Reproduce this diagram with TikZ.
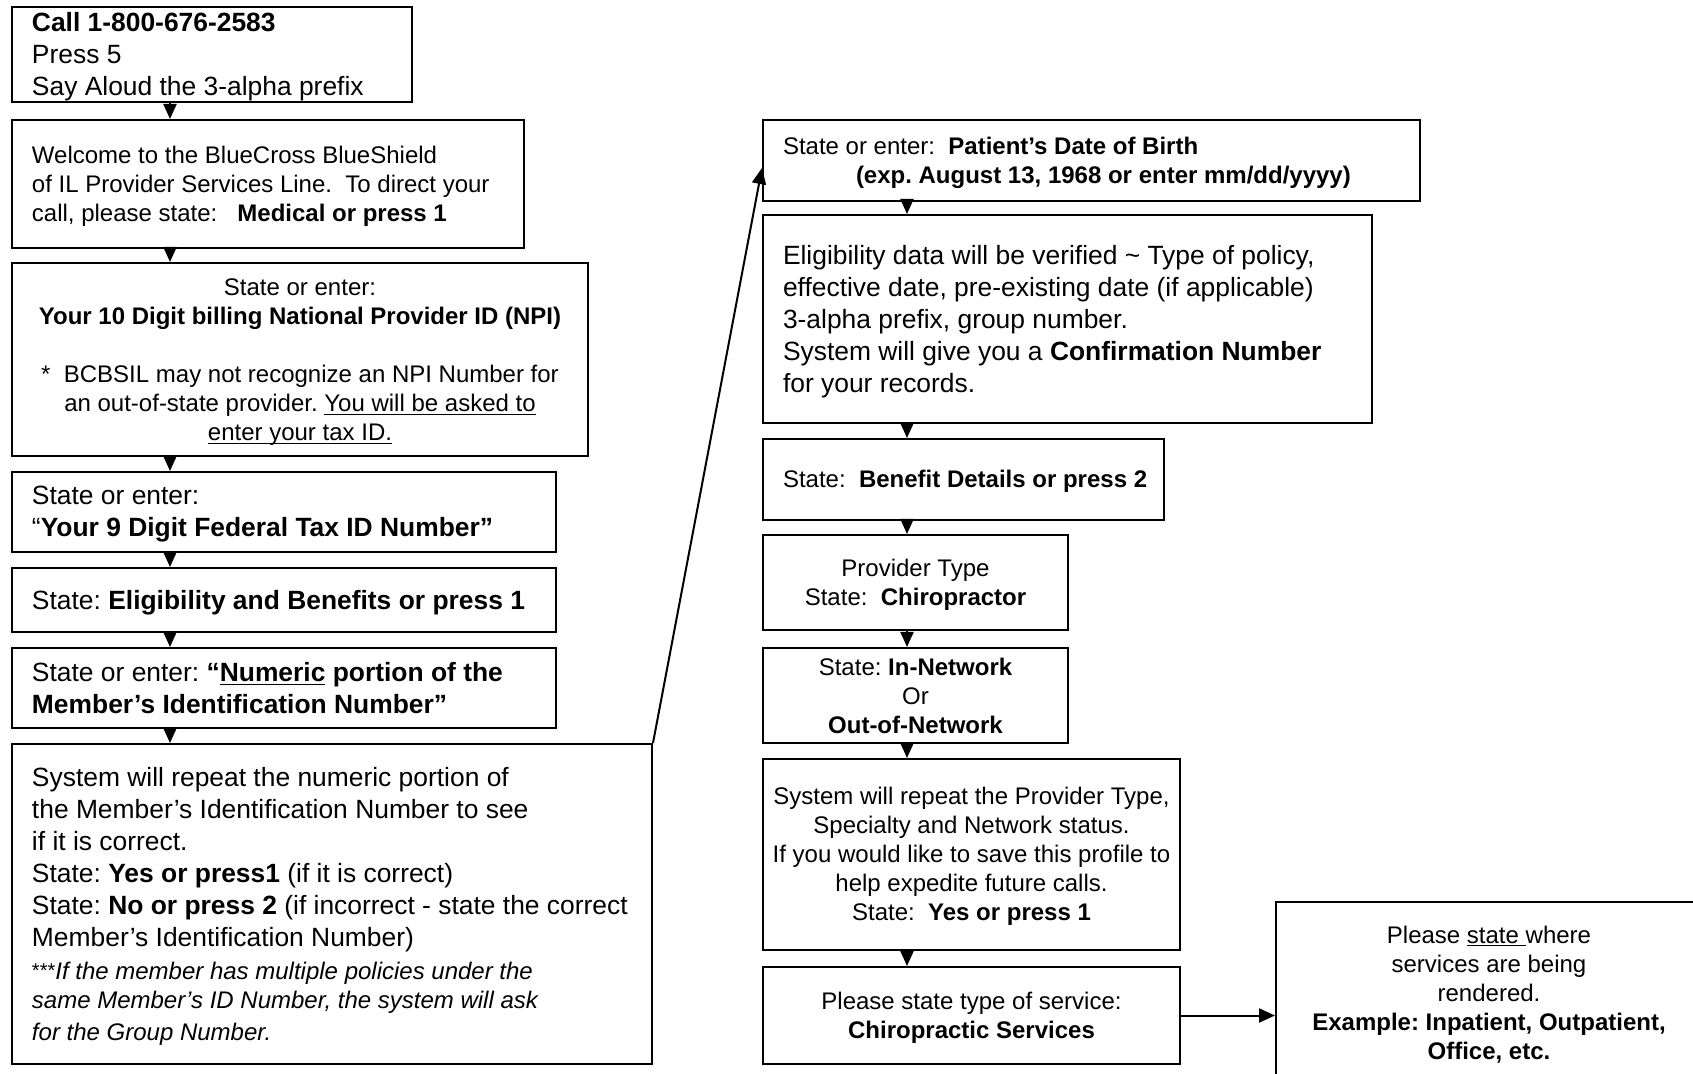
\documentclass[tikz,border=0pt]{standalone}
\usepackage{fontspec}
\setmainfont{Liberation Sans}
\usetikzlibrary{arrows.meta}
\newcommand\ulx[1]{\underline{\smash{#1}}}
\newcommand\natsp{\spaceskip=\fontdimen2\font plus \fontdimen3\font minus \fontdimen4\font\relax}
\newcommand\bigf{\fontsize{13.2pt}{16pt}\selectfont\natsp}
\newcommand\smf{\fontsize{12pt}{14.5pt}\selectfont\natsp}
\newcommand\Lx[1]{\mbox{#1}}
\begin{document}
\frenchspacing
\begin{tikzpicture}[x=0.5pt,y=-0.5pt,
  box/.style={draw, line width=1pt, rectangle, anchor=north west, inner ysep=0pt,
              execute at begin node={\natsp}},
  lbox/.style={box, align=left, inner xsep=10pt},
  cbox/.style={box, align=center, inner xsep=2pt},
  bigtext/.style={font=\bigf, text height=11.8pt},
  smalltext/.style={font=\smf, text height=10.9pt},
  arr/.style={line width=1pt, -{Triangle[width=6.5pt,length=7.5pt]}},
  longarr/.style={line width=1pt, -{Triangle[width=7pt,length=8pt]}},
]
\fill[white] (0,0) rectangle (1693,1074);
\useasboundingbox (0,0) rectangle (1693,1074);
\clip (0,0) rectangle (1693,1074);

% ---------------- left column ----------------
\node[lbox, bigtext, text width=180pt, minimum height=47.5pt] (b1) at (11,6)
  {\Lx{\textbf{Call 1-800-676-2583}}\\ \Lx{Press 5}\\ \Lx{Say Aloud the 3-alpha prefix}};

\node[lbox, smalltext, text width=236pt, minimum height=64pt] (b2) at (11,119)
  {\Lx{Welcome to the BlueCross BlueShield}\\
   \Lx{of IL Provider Services Line. \ To direct your}\\
   \Lx{call, please state: \ \ \textbf{Medical or press 1}}};

\node[cbox, smalltext, text width=284pt, minimum height=96.5pt] (b3) at (11,262)
  {\Lx{State or enter:}\\
   \Lx{\textbf{Your 10 Digit billing National Provider ID (NPI)}}\\[14.5pt]
   \Lx{*\ \ BCBSIL may not recognize an NPI Number for}\\
   \Lx{an out-of-state provider. \ulx{You will be asked to}}\\
   \Lx{\ulx{enter your tax ID.}}};

\node[lbox, bigtext, text width=252pt, minimum height=40pt] (b4) at (11,471)
  {\Lx{State or enter:}\\
   \Lx{“\textbf{Your 9 Digit Federal Tax ID Number”}}};

\node[lbox, bigtext, text width=252pt, minimum height=32pt] (b5) at (11,567)
  {\Lx{State: \textbf{Eligibility and Benefits or press 1}}};

\node[lbox, bigtext, text width=252pt, minimum height=40pt, text height=10pt] (b6) at (11,647)
  {\Lx{State or enter: \textbf{“\ulx{Numeric} portion of the}}\\
   \Lx{\textbf{Member’s Identification Number”}}};

\node[lbox, bigtext, text width=300pt, minimum height=160pt] (b7) at (11,743)
  {\Lx{System will repeat the numeric portion of}\\
   \Lx{the Member’s Identification Number to see}\\
   \Lx{if it is correct.}\\
   \Lx{State: \textbf{Yes or press1} (if it is correct)}\\
   \Lx{State: \textbf{No or press 2} (if incorrect - state the correct}\\
   \Lx{Member’s Identification Number)}\par\vspace{2pt}
   \smf\Lx{\raisebox{1pt}{\fontsize{10pt}{11pt}\selectfont ***}\textit{If the member has multiple policies under the}}\\
   \Lx{\textit{same Member’s ID Number, the system will ask}}\\
   \Lx{\textit{for the Group Number.}}};

% ---------------- right column ----------------
\node[lbox, smalltext, text width=308.5pt, minimum height=40.5pt] (b8) at (762,119)
  {\Lx{State or enter: \ \textbf{Patient’s Date of Birth}}\\
   \Lx{\hspace*{36.5pt}\textbf{(exp. August 13, 1968 or enter mm/dd/yyyy)}}};

\node[lbox, bigtext, text width=284.5pt, minimum height=104pt] (b9) at (762,214)
  {\Lx{Eligibility data will be verified \textasciitilde{} Type of policy,}\\
   \Lx{effective date, pre-existing date (if applicable)}\\
   \Lx{3-alpha prefix, group number.}\\
   \Lx{System will give you a \textbf{Confirmation Number}}\\
   \Lx{for your records.}};

\node[lbox, smalltext, text width=180.5pt, minimum height=40.5pt] (b10) at (762,438)
  {\Lx{State: \ \textbf{Benefit Details or press 2}}};

\node[cbox, smalltext, text width=148.5pt, minimum height=47.5pt] (b11) at (762,534)
  {\Lx{Provider Type}\\ \Lx{State: \ \textbf{Chiropractor}}};

\node[cbox, smalltext, text width=148.5pt, minimum height=47.5pt, text height=9pt] (b12) at (762,647)
  {\Lx{State: \textbf{In-Network}}\\ \Lx{Or}\\ \Lx{\textbf{Out-of-Network}}};

\node[cbox, smalltext, text width=204.5pt, minimum height=95.5pt] (b13) at (762,758)
  {\Lx{System will repeat the Provider Type,}\\
   \Lx{Specialty and Network status.}\\
   \Lx{If you would like to save this profile to}\\
   \Lx{help expedite future calls.}\\
   \Lx{State: \ \textbf{Yes or press 1}}};

\node[cbox, smalltext, text width=204.5pt, minimum height=48.5pt] (b14) at (762,966)
  {\Lx{Please state type of service:}\\ \Lx{\textbf{Chiropractic Services}}};

\node[cbox, smalltext, text width=209pt, minimum height=90pt] (b15) at (1275,901)
  {\Lx{Please \ulx{state\ }where}\\
   \Lx{services are being}\\
   \Lx{rendered.}\\
   \Lx{\textbf{Example: Inpatient, Outpatient,}}\\
   \Lx{\textbf{Office, etc.}}};

% ---------------- connectors ----------------
\coordinate (L) at (170,0);
\coordinate (R) at (907,0);

\draw[arr] (b1.south -| L) -- (b2.north -| L);
\draw[arr] (b2.south -| L) -- (b3.north -| L);
\draw[arr] (b3.south -| L) -- (b4.north -| L);
\draw[arr] (b4.south -| L) -- (b5.north -| L);
\draw[arr] (b5.south -| L) -- (b6.north -| L);
\draw[arr] (b6.south -| L) -- (b7.north -| L);

\draw[longarr] (b7.north east) -- ([yshift=-3.75pt]b8.west);

\draw[arr] (b8.south -| R) -- (b9.north -| R);
\draw[arr] (b9.south -| R) -- (b10.north -| R);
\draw[arr] (b10.south -| R) -- (b11.north -| R);
\draw[arr] (b11.south -| R) -- (b12.north -| R);
\draw[arr] (b12.south -| R) -- (b13.north -| R);
\draw[arr] (b13.south -| R) -- (b14.north -| R);

\draw[longarr] (b14.east) -- (b14.east -| b15.west);
\end{tikzpicture}
\end{document}
